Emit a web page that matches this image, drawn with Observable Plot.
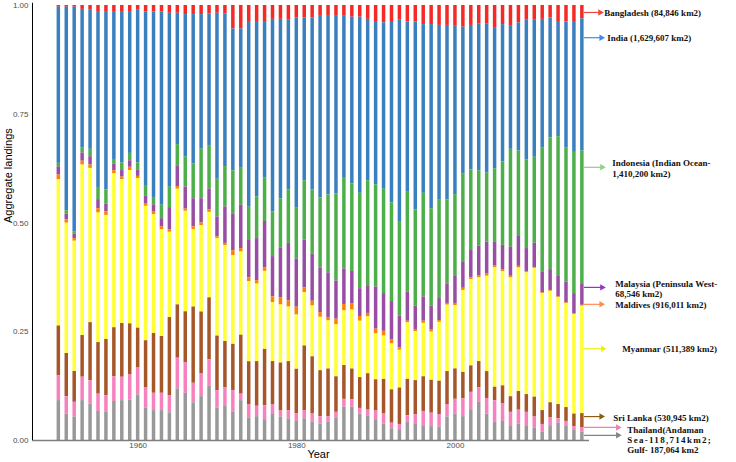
<!DOCTYPE html>
<html><head><meta charset="utf-8">
<script src="https://cdn.jsdelivr.net/npm/d3@7"></script>
<script src="https://cdn.jsdelivr.net/npm/@observablehq/plot@0.6"></script>
<style>body{margin:0;background:#fff} #chart svg{display:block}</style>
</head><body><div id="chart"></div>
<script>
const years = [1950,1951,1952,1953,1954,1955,1956,1957,1958,1959,1960,1961,1962,1963,1964,1965,1966,1967,1968,1969,1970,1971,1972,1973,1974,1975,1976,1977,1978,1979,1980,1981,1982,1983,1984,1985,1986,1987,1988,1989,1990,1991,1992,1993,1994,1995,1996,1997,1998,1999,2000,2001,2002,2003,2004,2005,2006,2007,2008,2009,2010,2011,2012,2013,2014,2015,2016];

const seriesNames = ["Bangladesh","India","Indonesia","Malaysia","Maldives","Myanmar","Sri Lanka","Thailand (Andaman Sea)","Thailand (Gulf)"];
const seriesColors = ["#F42A26","#3A80BF","#4DAF4A","#984EA3","#FF7F00","#FFFF33","#A65628","#F781BF","#999999"];

const bangladesh = [.004,.004,.004,.009,.011,.014,.014,.014,.014,.014,.011,.015,.015,
.015,.018,.018,.021,.021,.021,.019,.018,.019,.054,.054,.037,.037,.037,
.032,.032,.034,.029,.029,.029,.025,.023,.025,.025,.027,.027,.032,
.037,.040,.037,.034,.038,.038,.044,.044,.046,.046,.048,.050,.046,.042,
.042,.051,.044,.048,.040,.034,.034,.032,.029,.037,.038,.037,.031];
const india = [.360,.470,.517,.320,.321,.406,.411,.341,.349,.327,.352,.402,.428,
.446,.402,.303,.329,.345,.310,.304,.383,.352,.328,.320,.429,.405,.360,
.444,.415,.392,.438,.375,.396,.419,.414,.410,.372,.385,.406,.372,
.377,.384,.419,.464,.391,.433,.389,.425,.404,.402,.388,.339,.333,.339,
.345,.326,.317,.284,.296,.322,.316,.297,.276,.266,.290,.302,.305];
const indonesia = [.008,.008,.005,.011,.017,.028,.033,.011,.018,.017,.017,.023,.017,
.031,.047,.049,.069,.080,.114,.100,.087,.093,.100,.087,.077,.096,.101,
.103,.113,.123,.117,.137,.148,.161,.180,.201,.211,.202,.220,.242,
.236,.241,.228,.218,.232,.222,.239,.225,.227,.195,.187,.202,.186,.174,
.159,.169,.192,.226,.197,.205,.198,.285,.304,.323,.310,.326,.308];
const malaysia = [.019,.013,.011,.019,.019,.021,.018,.015,.015,.015,.014,.018,.017,
.019,.051,.048,.051,.065,.056,.048,.046,.084,.084,.100,.086,.097,.107,
.093,.115,.133,.111,.110,.109,.103,.103,.088,.082,.074,.064,.064,
.097,.087,.089,.073,.067,.054,.056,.054,.051,.044,.064,.061,.063,.069,
.074,.056,.056,.067,.069,.054,.056,.048,.048,.047,.048,.046,.048];
const maldives = [.011,.008,.006,.009,.008,.010,.008,.007,.006,.008,.005,.005,.006,
.006,.006,.006,.005,.006,.006,.006,.004,.005,.011,.008,.009,.008,.008,
.013,.017,.014,.018,.011,.011,.011,.008,.013,.015,.015,.011,.008,
.011,.011,.009,.006,.004,.005,.005,.006,.004,.004,.005,.005,.004,.004,
.005,.004,.005,.004,.004,.002,.002,.002,.002,.002,.002,.002,.002];
const myanmar = [.337,.301,.300,.393,.356,.299,.286,.355,.332,.353,.345,.310,.274,
.247,.197,.267,.232,.179,.199,.197,.225,.221,.205,.192,.185,.179,.180,
.136,.134,.126,.125,.123,.117,.123,.111,.120,.126,.136,.130,.131,
.106,.100,.106,.087,.130,.113,.123,.111,.136,.153,.146,.189,.199,.193,
.220,.276,.263,.274,.285,.281,.297,.270,.257,.247,.240,.230,.248];
const sriLanka = [.115,.100,.071,.096,.134,.119,.130,.113,.124,.118,.092,.109,.138,
.131,.180,.123,.118,.176,.143,.143,.126,.107,.107,.136,.100,.103,.130,
.099,.111,.113,.102,.149,.132,.106,.110,.082,.078,.071,.071,.084,
.072,.080,.077,.084,.084,.079,.080,.076,.077,.076,.070,.061,.061,.060,
.062,.031,.042,.036,.043,.041,.046,.032,.034,.033,.032,.029,.032];
const thailandAndaman = [.057,.040,.034,.054,.054,.040,.038,.057,.054,.058,.062,.046,.040,
.040,.040,.071,.070,.045,.052,.061,.040,.041,.050,.015,.030,.024,.032,
.023,.014,.019,.018,.019,.019,.017,.013,.013,.018,.017,.013,.013,
.020,.023,.013,.012,.015,.022,.033,.031,.029,.029,.034,.041,.040,.034,
.036,.050,.040,.031,.032,.031,.025,.018,.019,.010,.010,.009,.011];
const thailandGulf = [.092,.061,.054,.092,.084,.067,.065,.090,.092,.093,.105,.075,.069,
.069,.064,.119,.109,.087,.101,.125,.075,.080,.065,.092,.052,.055,.048,
.060,.054,.050,.044,.050,.042,.038,.042,.052,.077,.077,.061,.057,
.048,.038,.027,.025,.042,.037,.034,.032,.031,.054,.061,.055,.071,.088,
.061,.042,.044,.034,.038,.034,.029,.019,.034,.040,.034,.023,.019];

const xTicks = [1960, 1980, 2000];
const yTicks = [0, 0.25, 0.5, 0.75, 1];

// annotation arrows / labels (right side)
const arrowSeries = ["Bangladesh","India","Indonesia","Malaysia","Maldives","Myanmar","Sri Lanka","Thailand (Andaman Sea)","Thailand (Gulf)"];
const arrowAt = [0.984, 0.926, 0.628, 0.352, 0.313, 0.211, 0.055, 0.030, 0.012];
const arrowLen = [2.55, 2.7, 2.8, 2.8, 2.7, 2.9, 2.7, 4.8, 4.8];
const arrowColors = ["#F2463A","#3C8CEB","#92D083","#9A30C8","#FF8C55","#F2EE10","#8B5E14","#F27FB2","#848484"];

const labelText = ["Bangladesh (84,846 km2)","India (1,629,607 km2)","Indonesia (Indian Ocean-\n1,410,200 km2)","Malaysia (Peninsula West-\n68,546 km2)","Maldives (916,011 km2)","Myanmar (511,389 km2)","Sri Lanka (530,945 km2)","Thailand(Andaman","Sea-118,714km2;","Gulf- 187,064 km2"];
const labelAt = [0.984, 0.926, 0.626, 0.349, 0.313, 0.211, 0.053, 0.025, 0.025, 0.025];
const labelDx = [22, 25, 30, 33, 33, 40, 31, 45, 45, 45];
const labelDy = [0, 0, 0, 0, 0, 0, 0, 0, 10.3, 20];

const seriesValues = [bangladesh, india, indonesia, malaysia, maldives, myanmar, sriLanka, thailandAndaman, thailandGulf];
const rows = [];
seriesNames.forEach((s, i) => years.forEach((y, j) => rows.push({year: y, series: s, value: seriesValues[i][j]})));
const stackOrder = seriesNames.slice().reverse();
const lastYear = years[years.length - 1];
const xDomain = [1946.68, 2019.8];

const arrows = arrowSeries.map((s, i) => ({series: s, y: arrowAt[i], len: arrowLen[i], color: arrowColors[i]}));
const labels = labelText.map((t, i) => ({text: t, y: labelAt[i], dx: labelDx[i], dy: labelDy[i]}));

const marks = [
  Plot.rectY(rows, {x1: d => d.year - 0.22, x2: d => d.year + 0.22, y: "value", fill: "series", order: stackOrder, offset: "normalize"}),
  Plot.ruleY([0], {x1: xDomain[0], x2: lastYear + 0.9, stroke: "#7f7f7f", strokeWidth: 1.6}),
  Plot.ruleX([xDomain[0]], {y1: 0, y2: 1.005, stroke: "#000", strokeWidth: 1}),
  Plot.axisY({ticks: yTicks, tickFormat: d3.format(".2f"), tickSize: 0, tickPadding: 4, fontSize: 8, fill: "#4d4d4d", label: null}),
  Plot.axisX({ticks: xTicks, tickFormat: d3.format("d"), tickSize: 0, tickPadding: 2, fontSize: 8, fill: "#4d4d4d", label: null}),
  Plot.text(["Year"], {frameAnchor: "bottom", dy: 17, dx: -4, fontSize: 11, fill: "#000"}),
  Plot.text(["Aggregate landings"], {frameAnchor: "left", rotate: -90, dx: -24, fontSize: 11, fill: "#000"}),
  ...arrows.map(a => Plot.link([a], {x1: lastYear + 0.2, x2: d => lastYear + d.len - 0.3, y1: "y", y2: "y", stroke: a.color, strokeWidth: 1.2})),
  ...arrows.map(a => Plot.dot([a], {x: d => lastYear + d.len, y: "y", symbol: "triangle", rotate: 90, r: 2.4, fill: a.color, dx: -2.5})),
  ...labels.map(l => Plot.text([l], {x: lastYear, y: "y", text: "text", dx: l.dx, dy: l.dy, textAnchor: "start", lineHeight: 1.15, fontFamily: "Liberation Serif, Times New Roman, serif", fontWeight: "bold", fontSize: 9, fill: "#111"}))
];

const plot = Plot.plot({
  width: 736,
  height: 462,
  marginLeft: 32,
  marginRight: 124,
  marginTop: 5,
  marginBottom: 22,
  style: {fontFamily: "Liberation Sans, Arial, sans-serif", background: "#fff", overflow: "visible"},
  x: {type: "linear", domain: xDomain, axis: null},
  y: {domain: [0, 1], axis: null},
  color: {domain: seriesNames, range: seriesColors},
  marks
});
document.getElementById("chart").appendChild(plot);
d3.select(plot).selectAll("text").filter(function() { return this.textContent === "Sea-118,714km2;"; }).attr("letter-spacing", "1.3px");
</script>
</body></html>
